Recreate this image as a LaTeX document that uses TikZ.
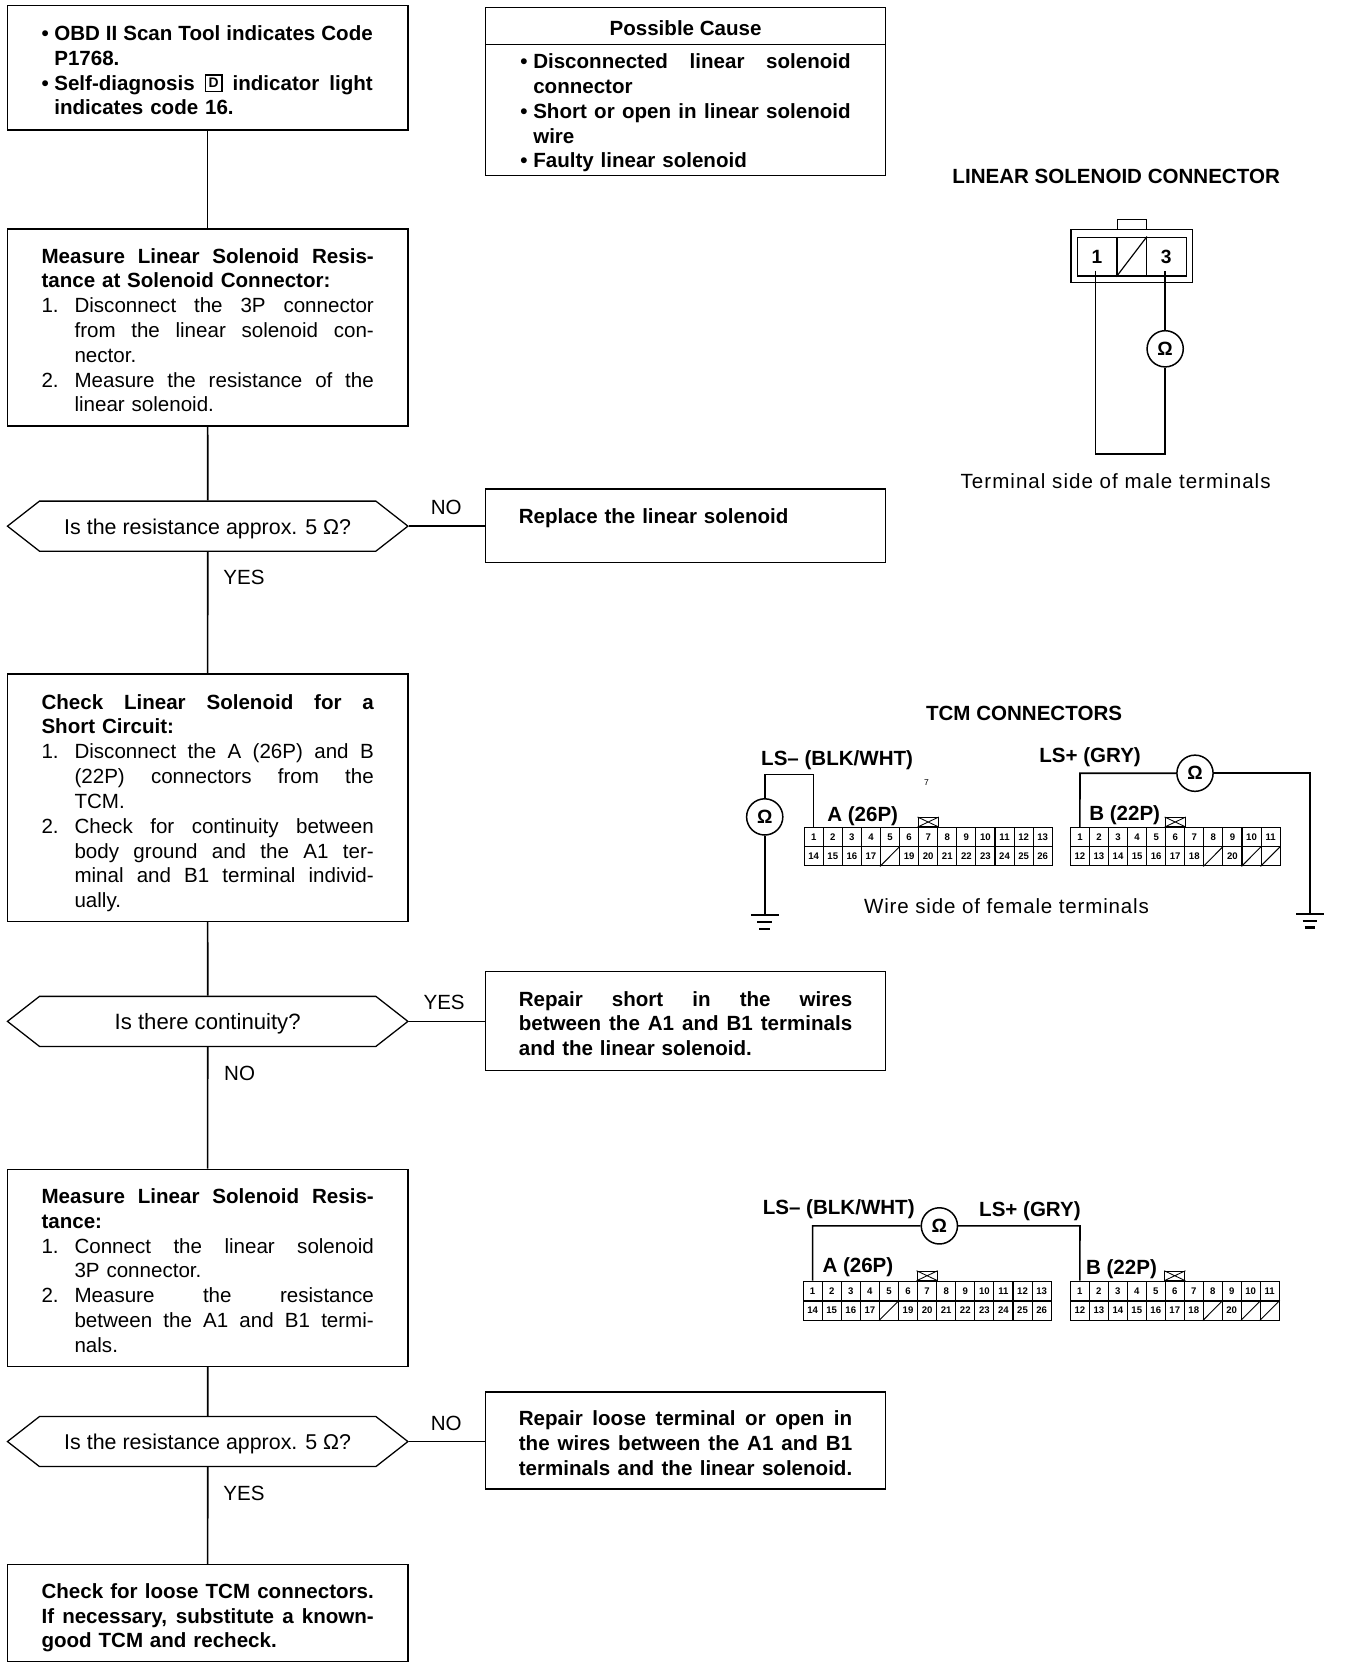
\documentclass[tikz,border=0pt]{standalone}
\usepackage{fontspec}
\setmainfont{Liberation Sans}
\usetikzlibrary{shapes.symbols,calc}
\newcommand\fbody{\fontsize{19.3}{23.3}\selectfont}
\newcommand\fcell{\fontsize{9}{10}\selectfont\bfseries}
\newcommand\jline[2]{\leavevmode\hbox to #1pt{\spaceskip=.25em plus 1fil\relax #2}}
\newcommand\bul[1]{\makebox[12pt][l]{•}#1}
\newcommand\ind[2]{\hspace*{#1pt}#2}
\newcommand\numl[2]{\makebox[31pt][l]{#1}\jline{281}{#2}}
\newcommand\hexlab[1]{\raisebox{-7.5pt}[0pt][0pt]{#1}}
\newcommand\termrow[5]{%
  \foreach \lab [count=\c] in {#5} {
    \node[cell] (#1\c) at ({#2+(\c-0.5)*#4},#3) {\lab};
  }}
\newcommand\gndsym[1]{%
  \draw[wire] ([xshift=-13pt]#1) -- ([xshift=13pt]#1);
  \draw[line width=2pt] ([xshift=-7pt,yshift=-6.5pt]#1) -- ([xshift=7pt,yshift=-6.5pt]#1);
  \draw[line width=2.2pt] ([xshift=-5pt,yshift=-13pt]#1) -- ([xshift=5pt,yshift=-13pt]#1);}
\tikzset{
  boxn/.style={draw,line width=1.4pt,inner sep=0pt,minimum width=376pt,text width=312pt,align=left,font=\fbody,
    execute at begin node={\rule{0pt}{19pt}}},
  boxr/.style={boxn,minimum width=375.5pt},
  hexn/.style={draw,line width=1.2pt,shape=signal,signal to=west and east,signal pointer angle=76,
    inner sep=0pt,minimum width=376pt,minimum height=47pt,font=\fontsize{20.1}{23.3}\selectfont},
  flow/.style={line width=1.5pt},
  lab/.style={font=\fbody,inner sep=0pt},
  blab/.style={font=\fbody\bfseries,inner sep=0pt},
  cell/.style={draw,line width=1pt,inner sep=0pt,minimum width=17.9pt,minimum height=18pt,font=\fcell},
  tabn/.style={draw,line width=0.9pt,inner sep=0pt,minimum width=19pt,minimum height=8.5pt},
  meter/.style={draw,circle,line width=1.4pt,inner sep=0pt,minimum size=34pt,font=\fontsize{18}{20}\selectfont\bfseries},
  wire/.style={line width=1.5pt},
}
\begin{document}
\begin{tikzpicture}[x=1pt,y=1pt]
\fill[white] (0,0) rectangle (1262,-1568);
\useasboundingbox (0,0) rectangle (1262,-1568);
% flow boxes
\node[boxn,minimum height=117pt] (b1) at (195,-63.5) {\bfseries
\bul{\jline{299}{OBD II Scan Tool indicates Code}}\\
\ind{12}{P1768.}\\
\bul{\jline{299}{Self-diagnosis \raisebox{2pt}[0pt][0pt]{\setlength{\fboxsep}{2.5pt}\setlength{\fboxrule}{1.2pt}\fbox{\fontsize{13}{13}\selectfont D}} indicator light}}\\
\ind{12}{indicates code 16.}};
\node[boxn,minimum height=185pt] (b2) at (195,-307.5) {%
\textbf{\jline{312}{Measure Linear Solenoid Resis-}}\\
\textbf{tance at Solenoid Connector:}\\
\numl{1.}{Disconnect the 3P connector}\\
\ind{31}{\jline{281}{from the linear solenoid con-}}\\
\ind{31}{nector.}\\
\numl{2.}{Measure the resistance of the}\\
\ind{31}{linear solenoid.}};
\node[hexn] (d1) at (195,-494) {\hexlab{Is the resistance approx. 5 Ω?}};
\node[boxn,minimum height=232pt,execute at begin node={\rule{0pt}{24pt}}] (b3) at (195,-749) {%
\textbf{\jline{312}{Check Linear Solenoid for a}}\\
\textbf{Short Circuit:}\\
\numl{1.}{Disconnect the A (26P) and B}\\
\ind{31}{\jline{281}{(22P) connectors from the}}\\
\ind{31}{TCM.}\\
\numl{2.}{Check for continuity between}\\
\ind{31}{\jline{281}{body ground and the A1 ter-}}\\
\ind{31}{\jline{281}{minal and B1 terminal individ-}}\\
\ind{31}{ually.}};
\node[hexn,font=\fontsize{20.8}{23.3}\selectfont] (d2) at (195,-959) {\hexlab{Is there continuity?}};
\node[boxn,minimum height=185pt] (b4) at (195,-1190.5) {%
\textbf{\jline{312}{Measure Linear Solenoid Resis-}}\\
\textbf{tance:}\\
\numl{1.}{Connect the linear solenoid}\\
\ind{31}{3P connector.}\\
\numl{2.}{Measure the resistance}\\
\ind{31}{\jline{281}{between the A1 and B1 termi-}}\\
\ind{31}{nals.}};
\node[hexn] (d3) at (195,-1353.5) {\hexlab{Is the resistance approx. 5 Ω?}};
\node[boxn,minimum height=91pt,execute at begin node={\rule{0pt}{23pt}}] (b5) at (195,-1514.5) {\bfseries
\jline{312}{Check for loose TCM connectors.}\\
\jline{312}{If necessary, substitute a known-}\\
good TCM and recheck.};
% right boxes
\node[boxr,minimum height=123pt,text width=310pt] (c1) at (643.7,-103.5) {\bfseries
\bul{\jline{298}{Disconnected linear solenoid}}\\
\ind{12}{connector}\\
\bul{\jline{298}{Short or open in linear solenoid}}\\
\ind{12}{wire}\\
\bul{Faulty linear solenoid}};
\node[draw,line width=1.4pt,inner sep=0pt,minimum width=375.5pt,minimum height=35pt,font=\fbody\bfseries] (c0) at (643.7,-24.5) {\raisebox{-8.5pt}[0pt][0pt]{Possible Cause}};
\node[boxr,minimum height=69pt,text width=313pt,execute at begin node={}] (r1) at (643.7,-493.5) {\raisebox{18pt}{\bfseries Replace the linear solenoid}};
\node[boxr,minimum height=93pt,text width=313pt] (r2) at (643.7,-958.5) {\bfseries
\jline{313}{Repair short in the wires}\\
\jline{313}{between the A1 and B1 terminals}\\
and the linear solenoid.};
\node[boxr,minimum height=91pt,text width=313pt] (r3) at (643.7,-1352.5) {\bfseries
\jline{313}{Repair loose terminal or open in}\\
\jline{313}{the wires between the A1 and B1}\\
\jline{313}{terminals and the linear solenoid.}};
% flow connectors
\draw[flow] (b1) -- (b2);
\draw[flow] (b2) -- (d1);
\draw[flow] (d1) -- (b3);
\draw[flow] (b3) -- (d2);
\draw[flow] (d2) -- (b4);
\draw[flow] (b4) -- (d3);
\draw[flow] (d3) -- (b5);
\draw[flow] (d1.east) -- (d1.east -| r1.west);
\draw[flow] (d2.east) -- (d2.east -| r2.west);
\draw[flow] (d3.east) -- (d3.east -| r3.west);
\node[lab] (l1) at (419,-476) {NO};
\node[lab] (l2) at (229,-542) {YES};
\node[lab] (l3) at (417,-941) {YES};
\node[lab] (l4) at (225,-1008) {NO};
\node[lab] (l5) at (419,-1336) {NO};
\node[lab] (l6) at (229,-1402) {YES};
% linear solenoid connector
\node[blab] (t1) at (1048,-166) {LINEAR SOLENOID CONNECTOR};
\node[draw,line width=1.3pt,inner sep=0pt,minimum width=114pt,minimum height=50pt] (so) at (1062.5,-240.5) {};
\node[draw,line width=1.3pt,inner sep=0pt,minimum width=27.5pt,minimum height=9.5pt] (st) at (1062.7,-210.8) {};
\node[draw,line width=1.3pt,inner sep=0pt,minimum width=37pt,minimum height=36.5pt,font=\fontsize{18}{20}\selectfont\bfseries] (s1) at (1030,-241) {1};
\node[draw,line width=1.3pt,inner sep=0pt,minimum width=27.5pt,minimum height=36.5pt] (s2) at (1062.5,-241) {};
\node[draw,line width=1.3pt,inner sep=0pt,minimum width=37.5pt,minimum height=36.5pt,font=\fontsize{18}{20}\selectfont\bfseries] (s3) at (1095,-241) {3};
\draw[line width=1.1pt] (s2.south west) -- (s2.north east);
\node[meter] (m0) at (1094,-327.5) {Ω};
\coordinate (sa) at (1028.5,-254);
\coordinate (sb) at (1094,-254);
\coordinate (sc) at (1028.5,-426);
\coordinate (sd) at (1094,-426);
\draw[wire] (sa) -- (sc) -- (sd) -- (m0.south);
\draw[wire] (m0.north) -- (sb);
\node[lab,font=\fbody\addfontfeature{LetterSpace=5}] (t2) at (1047.5,-452) {Terminal side of male terminals};
% TCM connectors
\node[blab] (t3) at (961.5,-670) {TCM CONNECTORS};
\node[blab] (t4) at (786,-713.5) {LS– (BLK/WHT)};
\node[blab] (t5) at (1023.5,-710.5) {LS+ (GRY)};
\node[font=\fontsize{8}{9}\selectfont,inner sep=0pt] (t6) at (870,-735) {7};
\node[blab] (t7) at (810,-766) {A (26P)};
\node[blab] (t8) at (1056,-765) {B (22P)};
\termrow{Aa}{755}{-786}{17.92}{1,2,3,4,5,6,7,8,9,10,11,12,13}
\termrow{Ab}{755}{-804}{17.92}{14,15,16,17,{},19,20,21,22,23,24,25,26}
\termrow{Ba}{1005}{-786}{17.9}{1,2,3,4,5,6,7,8,9,10,11}
\termrow{Bb}{1005}{-804}{17.9}{12,13,14,15,16,17,18,{},20,{},{}}
\draw[line width=0.9pt] (Ab5.south west) -- (Ab5.north east);
\draw[line width=0.9pt] (Bb8.south west) -- (Bb8.north east);
\draw[line width=0.9pt] (Bb10.south west) -- (Bb10.north east);
\draw[line width=0.9pt] (Bb11.south west) -- (Bb11.north east);
\node[tabn,anchor=south] (ta) at (Aa7.north) {};
\draw[line width=0.8pt] (ta.south west) -- (ta.north east) (ta.north west) -- (ta.south east);
\node[tabn,anchor=south] (tb) at (Ba6.north) {};
\draw[line width=0.8pt] (tb.south west) -- (tb.north east) (tb.north west) -- (tb.south east);
\node[meter] (m1) at (718,-767) {Ω};
\node[meter] (m2) at (1122,-726) {Ω};
\coordinate (w1) at (718,-727);
\coordinate (g1) at (718,-859);
\coordinate (w2) at (1014,-726);
\coordinate (w3) at (1230,-726);
\coordinate (g2) at (1230,-858);
\draw[wire] (g1) -- (m1.south);
\draw[wire] (m1.north) -- (w1) -| (Aa1.north);
\draw[wire] (Ba1.north) -- (w2) -- (m2.west);
\draw[wire] (m2.east) -- (w3) -- (g2);
\gndsym{g1}
\gndsym{g2}
\node[lab,font=\fbody\addfontfeature{LetterSpace=4}] (t9) at (945,-851) {Wire side of female terminals};
% second TCM connectors
\node[blab] (u1) at (787.5,-1135) {LS– (BLK/WHT)};
\node[blab] (u2) at (967,-1137) {LS+ (GRY)};
\node[blab] (u3) at (805.5,-1190) {A (26P)};
\node[blab] (u4) at (1053,-1192) {B (22P)};
\termrow{Ca}{754}{-1212}{17.92}{1,2,3,4,5,6,7,8,9,10,11,12,13}
\termrow{Cb}{754}{-1230.5}{17.92}{14,15,16,17,{},19,20,21,22,23,24,25,26}
\termrow{Da}{1005}{-1212}{17.82}{1,2,3,4,5,6,7,8,9,10,11}
\termrow{Db}{1005}{-1230.5}{17.82}{12,13,14,15,16,17,18,{},20,{},{}}
\draw[line width=0.9pt] (Cb5.south west) -- (Cb5.north east);
\draw[line width=0.9pt] (Db8.south west) -- (Db8.north east);
\draw[line width=0.9pt] (Db10.south west) -- (Db10.north east);
\draw[line width=0.9pt] (Db11.south west) -- (Db11.north east);
\node[tabn,anchor=south] (tc) at (Ca7.north) {};
\draw[line width=0.8pt] (tc.south west) -- (tc.north east) (tc.north west) -- (tc.south east);
\node[tabn,anchor=south] (td) at (Da6.north) {};
\draw[line width=0.8pt] (td.south west) -- (td.north east) (td.north west) -- (td.south east);
\node[meter] (m3) at (882,-1151) {Ω};
\coordinate (w4) at (763,-1151);
\coordinate (w5) at (1014,-1151);
\draw[wire] (Ca1.north) -- (w4) -- (m3.west);
\draw[wire] (m3.east) -- (w5) -- (Da1.north);
\end{tikzpicture}
\end{document}
